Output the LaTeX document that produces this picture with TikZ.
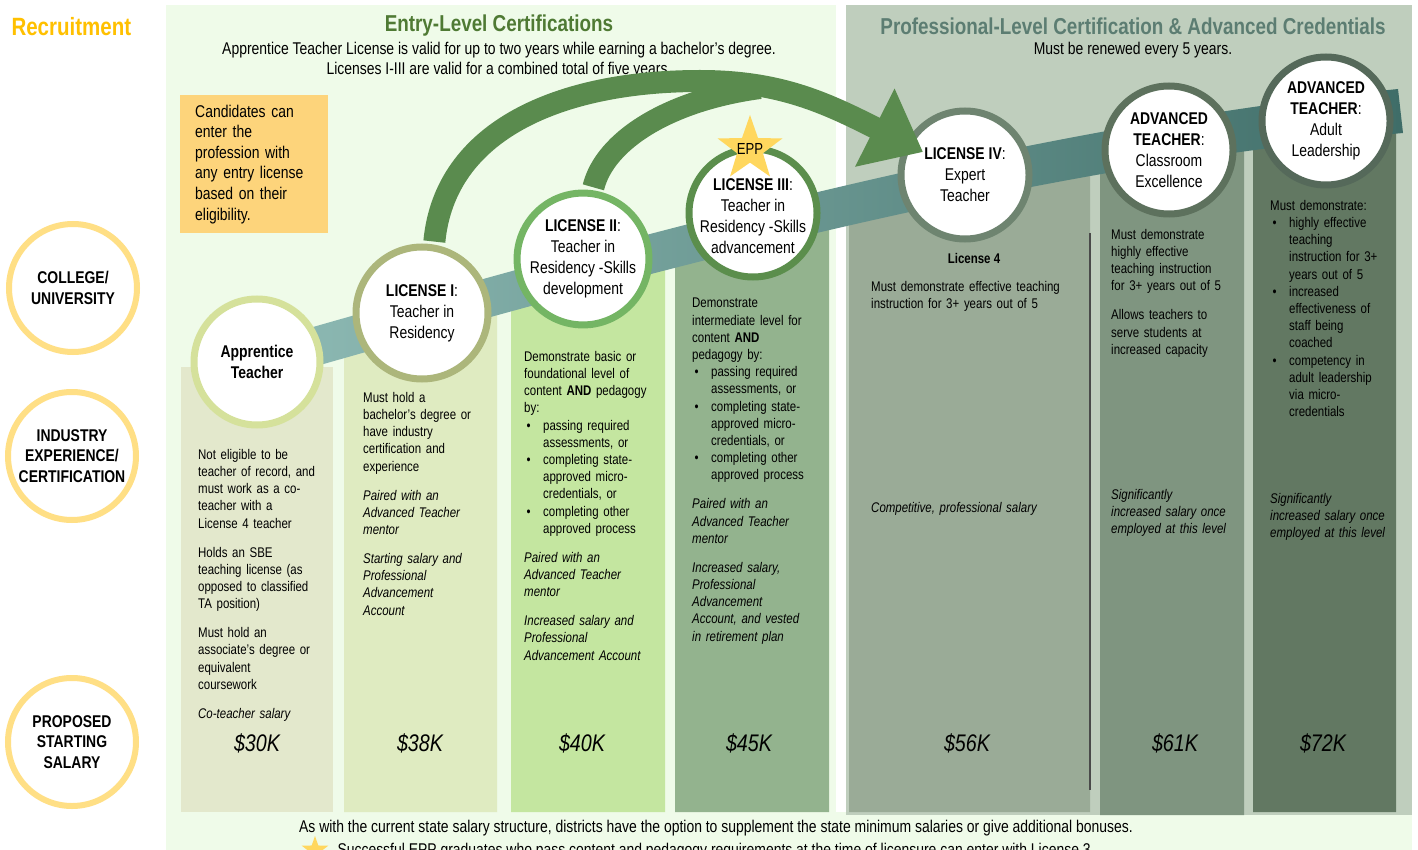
\documentclass[tikz,border=0pt]{standalone}
\usepackage{fontspec}
\setmainfont{Liberation Sans}[FakeStretch=0.82]
\usetikzlibrary{positioning,shapes.geometric,arrows.meta,calc}

\definecolor{entrybg}{HTML}{EFFBE9}
\definecolor{profbg}{HTML}{BFCEBD}
\definecolor{colA}{HTML}{E3E8CC}
\definecolor{colB}{HTML}{DFEBC1}
\definecolor{colC}{HTML}{C4E6A0}
\definecolor{colD}{HTML}{93B38E}
\definecolor{colE}{HTML}{9AAB97}
\definecolor{colF}{HTML}{7F9580}
\definecolor{colG}{HTML}{627862}
\definecolor{ringA}{HTML}{D5E19B}
\definecolor{ringB}{HTML}{ACB67B}
\definecolor{ringC}{HTML}{74B564}
\definecolor{ringD}{HTML}{5B8E4C}
\definecolor{ringE}{HTML}{6E8470}
\definecolor{ringF}{HTML}{5D715D}
\definecolor{ringG}{HTML}{55695A}
\definecolor{ringgold}{HTML}{FFDF85}
\definecolor{candfill}{HTML}{FDD47B}
\definecolor{stargold}{HTML}{FFD75E}
\definecolor{arcgreen}{HTML}{5A8B4E}
\definecolor{bandL}{HTML}{8FBBB5}
\definecolor{bandR}{HTML}{3F6D68}
\definecolor{titlegreen}{HTML}{4F7A34}
\definecolor{titleprof}{HTML}{5C7D72}
\definecolor{recruitgold}{HTML}{FFC000}
\definecolor{rulegray}{HTML}{4A4A4A}

\newcommand{\bul}[1]{\par{\hangindent=19pt\hangafter=1\noindent\makebox[19pt][l]{\hspace{2.5pt}\textbullet}\let\\\newline#1\par}}
\newcommand{\colgap}{\par\vspace{11.8pt}}

\tikzset{
	ring/.style={circle, draw=#1, line width=7pt, fill=white, minimum size=128pt, inner sep=0pt, align=center, font=\fontsize{17}{21}\selectfont},
	goldring/.style={circle, draw=ringgold, line width=6pt, fill=white, minimum size=128pt, inner sep=0pt, align=center, font=\bfseries\fontsize{17}{20.5}\selectfont},
	coltext/.style={anchor=north west, inner sep=0pt, text width=#1, align=left, font=\fontsize{14}{17.2}\selectfont},
	coltext/.default=160pt,
	colnote/.style={coltext=#1, font=\itshape\fontsize{14}{17.2}\selectfont},
	colnote/.default=160pt,
	salary/.style={font=\itshape\fontsize{24}{28}\selectfont},
	bigarc/.style={draw=arcgreen, line width=22pt},
	eppstar/.style={star, star points=5, star point ratio=2.5, fill=stargold, inner sep=0pt, minimum size=#1}
}

\begin{document}
\begin{tikzpicture}[x=1pt, y=-1pt]
	\useasboundingbox (0,0) rectangle (1418,850);
	\clip (0,0) rectangle (1418,850);
	\fill[white] (0,0) rectangle (1418,850);
	
	\fill[entrybg] (166,5) rectangle (836,850);
	\fill[entrybg] (166,812) rectangle (1412,850);
	\fill[profbg] (846,5) rectangle (1412,815);
	
	\fill[colA] (181,367) rectangle (333,812);
	\fill[colB] (344,338) -- (497,297) -- (497,812) -- (344,812) -- cycle;
	\fill[colC] (511,291) -- (665,252) -- (665,812) -- (511,812) -- cycle;
	\fill[colD] (675,248) -- (829,210) -- (829,812) -- (675,812) -- cycle;
	\fill[colE] (849,205) -- (1090,154) -- (1090,812) -- (849,812) -- cycle;
	\fill[colF] (1100,152) -- (1244,130) -- (1244,815) -- (1100,815) -- cycle;
	\fill[colG] (1253,129) -- (1396,112) -- (1396,812) -- (1253,812) -- cycle;
	\draw[rulegray, line width=1.5pt] (1090,233) -- (1090,790);
	
	\shade[left color=bandL, right color=bandR] (250,345) .. controls (600,245) and (1000,130) .. (1398,89) -- (1403,133) .. controls (1000,170) and (600,285) .. (250,385) -- cycle;
	
	\node[anchor=west, text=recruitgold, font=\bfseries\fontsize{25}{30}\selectfont] (rec) at (8,27) {Recruitment};
	\node[text=titlegreen, font=\bfseries\fontsize{23}{27}\selectfont] (h1) at (499,26) {Entry-Level Certifications};
	\node[align=center, font=\fontsize{17}{20}\selectfont] (h1s) at (499,60) {Apprentice Teacher License is valid for up to two years while earning a bachelor’s degree.\\Licenses I-III are valid for a combined total of five years.};
	\node[text=titleprof, font=\bfseries\fontsize{23}{27}\selectfont] (h2) at (1133,26) {Professional-Level Certification \& Advanced Credentials};
	\node[font=\fontsize{17}{20}\selectfont] (h2s) at (1133,50) {Must be renewed every 5 years.};
	
	\node[anchor=north west, fill=candfill, minimum width=148pt, minimum height=138pt, text width=118pt, inner xsep=15pt, align=left, font=\fontsize{17}{20.6}\selectfont] (cand) at (180,95) {Candidates can\\enter the\\profession with\\any entry license\\based on their\\eligibility.};
	
	\node[goldring] (r1) at (73,288) {COLLEGE/\\UNIVERSITY};
	\node[goldring] (r2) at (72,456) {INDUSTRY\\EXPERIENCE/\\CERTIFICATION};
	\node[goldring] (r3) at (72,742) {PROPOSED\\STARTING\\SALARY};
	
	\node[ring=ringA, minimum size=126pt, font=\bfseries\fontsize{17}{21}\selectfont] (l0) at (257,362) {Apprentice\\Teacher};
	\node[ring=ringB, minimum size=132pt] (l1) at (422,313) {\textbf{LICENSE I}:\\Teacher in\\Residency};
	\node[ring=ringC] (l2) at (583,259) {\textbf{LICENSE II}:\\Teacher in\\Residency -Skills\\development};
	\node[ring=ringD, label={[align=center, font=\fontsize{17}{21}\selectfont, yshift=-3pt]center:{\textbf{LICENSE III}:\\Teacher in\\Residency -Skills\\advancement}}] (l3) at (753,213) {};
	\node[ring=ringE] (l4) at (965,175) {\textbf{LICENSE IV}:\\Expert\\Teacher};
	\node[ring=ringF] (l5) at (1169,150) {\textbf{ADVANCED}\\\textbf{TEACHER}:\\Classroom\\Excellence};
	\node[ring=ringG] (l6) at (1326,121) {\textbf{ADVANCED}\\\textbf{TEACHER}:\\Adult\\Leadership};
	
	\coordinate (m1) at (760,88);
	\draw[bigarc, shorten <=3pt] (l2.82) .. controls (605,140) and (670,100) .. (m1);
	\draw[bigarc, shorten <=3pt, -{Triangle[length=54pt,width=84pt]}] (l1.80) .. controls (445,130) and (560,81) .. (700,81) .. controls (780,81) and (826,103) .. ($(l4.center)+(-42,-23)$);
	
	\node[eppstar=68pt, label={[font=\fontsize{16}{19}\selectfont]center:EPP}] (e1) at (750,149) {};
	
	\node[coltext] (t0) at (198,449) {Not eligible to be\\teacher of record, and\\must work as a co-\\teacher with a\\License 4 teacher\colgap
		Holds an SBE\\teaching license (as\\opposed to classified\\TA position)\colgap
		Must hold an\\associate’s degree or\\equivalent\\coursework\colgap
		\textit{Co-teacher salary}};
	\node[coltext] (t1) at (363,392) {Must hold a\\bachelor’s degree or\\have industry\\certification and\\experience\colgap
		\textit{Paired with an\\Advanced Teacher\\mentor}\colgap
		\textit{Starting salary and\\Professional\\Advancement\\Account}};
	\node[coltext] (t2) at (524,351) {Demonstrate basic or\\foundational level of\\content \textbf{AND} pedagogy\\by:
		\bul{passing required\\assessments, or}
		\bul{completing state-\\approved micro-\\credentials, or}
		\bul{completing other\\approved process}\vspace{11.8pt}
		\textit{Paired with an\\Advanced Teacher\\mentor}\colgap
		\textit{Increased salary and\\Professional\\Advancement Account}};
	\node[coltext] (t3) at (692,298) {Demonstrate\\intermediate level for\\content \textbf{AND}\\pedagogy by:
		\bul{passing required\\assessments, or}
		\bul{completing state-\\approved micro-\\credentials, or}
		\bul{completing other\\approved process}\vspace{11.8pt}
		\textit{Paired with an\\Advanced Teacher\\mentor}\colgap
		\textit{Increased salary,\\Professional\\Advancement\\Account, and vested\\in retirement plan}};
	\node[font=\bfseries\fontsize{14}{17}\selectfont] (h4) at (974,258) {License 4};
	\node[coltext=230pt] (t4) at (871,281) {Must demonstrate effective teaching\\instruction for 3+ years out of 5};
	\node[colnote=230pt] (p4) at (871,502) {Competitive, professional salary};
	\node[coltext] (t5) at (1111,229) {Must demonstrate\\highly effective\\teaching instruction\\for 3+ years out of 5\colgap
		Allows teachers to\\serve students at\\increased capacity};
	\node[colnote] (p5) at (1111,489) {Significantly\\increased salary once\\employed at this level};
	\node[coltext] (t6) at (1270,200) {Must demonstrate:
		\bul{highly effective\\teaching\\instruction for 3+\\years out of 5}
		\bul{increased\\effectiveness of\\staff being\\coached}
		\bul{competency in\\adult leadership\\via micro-\\credentials}};
	\node[colnote] (p6) at (1270,493) {Significantly\\increased salary once\\employed at this level};
	
	\node[salary] (s0) at (257,743) {\$30K};
	\node[salary] (s1) at (420,743) {\$38K};
	\node[salary] (s2) at (582,743) {\$40K};
	\node[salary] (s3) at (749,743) {\$45K};
	\node[salary] (s4) at (967,743) {\$56K};
	\node[salary] (s5) at (1175,743) {\$61K};
	\node[salary] (s6) at (1323,743) {\$72K};
	
	\node[font=\fontsize{17}{20}\selectfont] (f1) at (716,828) {As with the current state salary structure, districts have the option to supplement the state minimum salaries or give additional bonuses.};
	\node[eppstar=28pt] (e2) at (315,850) {};
	\node[anchor=base west, font=\fontsize{17}{20}\selectfont] (f2) at (334,855) {Successful EPP graduates who pass content and pedagogy requirements at the time of licensure can enter with License 3.};
\end{tikzpicture}
\end{document}
